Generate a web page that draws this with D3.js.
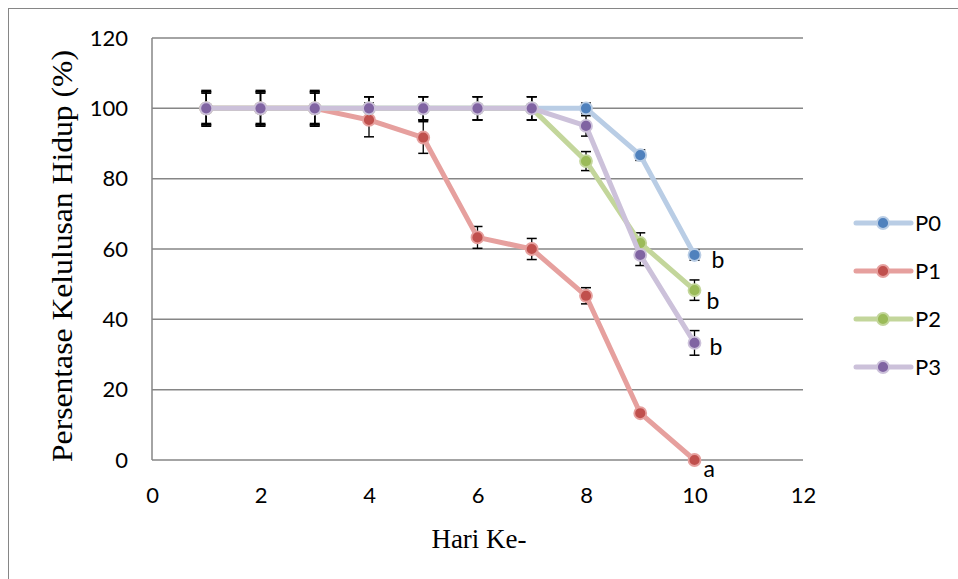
<!DOCTYPE html>
<html>
<head>
<meta charset="utf-8">
<script src="https://cdn.jsdelivr.net/npm/d3@7"></script>
<style>
	body { margin: 0; background: #fff; }
	svg { display: block; }
</style>
</head>
<body>
<div id="chart"></div>
<script>
// data
var days = [1, 2, 3, 4, 5, 6, 7, 8, 9, 10];
var seriesNames = ["P0", "P1", "P2", "P3"];
var p0 = [100, 100, 100, 100, 100, 100, 100, 100, 86.7, 58.3];
var p1 = [100, 100, 100, 96.7, 91.7, 63.3, 60, 46.7, 13.3, 0];
var p2 = [100, 100, 100, 100, 100, 100, 100, 85, 61.7, 48.3];
var p3 = [100, 100, 100, 100, 100, 100, 100, 95, 58.3, 33.3];
var p0Err = [4.3, 4.3, 4.3, 3.3, 3.3, 3.3, 3.3, 1.5, 1.5, 1.5];
var p1Err = [5.1, 5.1, 5.1, 4.8, 4.5, 3.1, 3.0, 2.3, 0, 0];
var p2Err = [4.7, 4.7, 4.7, 3.3, 3.3, 3.3, 3.3, 2.7, 2.9, 2.9];
var p3Err = [4.7, 4.7, 4.7, 3.3, 3.3, 3.3, 3.3, 2.9, 3.0, 3.5];
var xTicks = [0, 2, 4, 6, 8, 10, 12];
var yTicks = [0, 20, 40, 60, 80, 100, 120];
var letters = ["b", "a", "b", "b"]; // significance letters at day 10

var lineColors = ["#b9cde5", "#e6a09e", "#c3d69b", "#ccc1da"];
var markColors = ["#4f81bd", "#c0504d", "#9bbb59", "#8064a2"];
// label offsets from the last point (px)
var letterOffset = [[17, 13], [9, 17], [12, 19], [15, 12]];

var values = [p0, p1, p2, p3];
var errors = [p0Err, p1Err, p2Err, p3Err];
var series = seriesNames.map(function(name, i) {
	return {
		name: name,
		points: days.map(function(d, j) {
			return { x: d, y: values[i][j], e: errors[i][j] };
		})
	};
});

var W = 958, H = 579;
var svg = d3.select("#chart").append("svg")
	.attr("width", W)
	.attr("height", H);

// outer frame
svg.append("rect")
	.attr("x", 8.5).attr("y", 8.5)
	.attr("width", W + 20).attr("height", H + 20)
	.attr("fill", "none")
	.attr("stroke", "#868686")
	.attr("stroke-width", 1);

var x = d3.scaleLinear().domain([0, 12]).range([152, 803]);
var y = d3.scaleLinear().domain([0, 120]).range([460, 38]);

// gridlines
svg.append("g").selectAll("line")
	.data(yTicks)
	.enter().append("line")
	.attr("x1", x(0)).attr("x2", x(12))
	.attr("y1", function(d) { return y(d); })
	.attr("y2", function(d) { return y(d); })
	.attr("stroke", "#868686")
	.attr("stroke-width", 1.5);

// left axis line
svg.append("line")
	.attr("x1", x(0)).attr("x2", x(0))
	.attr("y1", y(0)).attr("y2", y(120))
	.attr("stroke", "#868686")
	.attr("stroke-width", 1.5);

// tick labels
var yAxis = d3.axisLeft(y).tickValues(yTicks).tickSize(0).tickPadding(24);
var gy = svg.append("g").attr("transform", "translate(" + x(0) + ",0)").call(yAxis);
var xAxis = d3.axisBottom(x).tickValues(xTicks).tickSize(0).tickPadding(27);
var gx = svg.append("g").attr("transform", "translate(0," + y(0) + ")").call(xAxis);
[gx, gy].forEach(function(g) {
	g.select(".domain").remove();
	g.selectAll("text")
		.attr("font-family", "Lato, 'Open Sans', sans-serif")
		.attr("font-size", 22)
		.attr("fill", "#000");
});

// axis titles
svg.append("text")
	.attr("transform", "translate(72,256) rotate(-90)")
	.attr("text-anchor", "middle")
	.attr("font-family", "'Liberation Serif', 'Times New Roman', serif")
	.attr("font-size", 29)
	.attr("textLength", 412)
	.attr("lengthAdjust", "spacingAndGlyphs")
	.text("Persentase Kelulusan Hidup (%)");

svg.append("text")
	.attr("x", 479).attr("y", 548)
	.attr("text-anchor", "middle")
	.attr("font-family", "'Liberation Serif', 'Times New Roman', serif")
	.attr("font-size", 27)
	.text("Hari Ke-");

// error bars
var eg = svg.append("g");
series.forEach(function(s) {
	s.points.filter(function(p) { return p.e > 0; }).forEach(function(p) {
		var cx = x(p.x), top = y(p.y + p.e), bot = y(p.y - p.e);
		eg.append("line").attr("x1", cx).attr("x2", cx).attr("y1", top).attr("y2", bot)
			.attr("stroke", "#000").attr("stroke-width", 1.3);
		[top, bot].forEach(function(yy) {
			eg.append("line").attr("x1", cx - 5).attr("x2", cx + 5).attr("y1", yy).attr("y2", yy)
				.attr("stroke", "#000").attr("stroke-width", 1.5);
		});
	});
});

// lines + markers
var line = d3.line()
	.x(function(d) { return x(d.x); })
	.y(function(d) { return y(d.y); });

series.forEach(function(s, i) {
	var g = svg.append("g");
	g.append("path")
		.attr("d", line(s.points))
		.attr("fill", "none")
		.attr("stroke", lineColors[i])
		.attr("stroke-width", 5)
		.attr("stroke-linejoin", "round");
	g.selectAll("circle")
		.data(s.points)
		.enter().append("circle")
		.attr("cx", function(d) { return x(d.x); })
		.attr("cy", function(d) { return y(d.y); })
		.attr("r", 6)
		.attr("fill", markColors[i])
		.attr("stroke", lineColors[i])
		.attr("stroke-width", 1.8);
});

// significance letters
series.forEach(function(s, i) {
	var last = s.points[s.points.length - 1];
	svg.append("text")
		.attr("x", x(last.x) + letterOffset[i][0])
		.attr("y", y(last.y) + letterOffset[i][1])
		.attr("font-family", "Lato, 'Open Sans', sans-serif")
		.attr("font-size", 23)
		.text(letters[i]);
});

// legend
var legend = svg.append("g");
seriesNames.forEach(function(name, i) {
	var ly = 223 + i * 48;
	legend.append("line")
		.attr("x1", 856).attr("x2", 911)
		.attr("y1", ly).attr("y2", ly)
		.attr("stroke", lineColors[i])
		.attr("stroke-width", 5)
		.attr("stroke-linecap", "round");
	legend.append("circle")
		.attr("cx", 883).attr("cy", ly).attr("r", 6)
		.attr("fill", markColors[i])
		.attr("stroke", lineColors[i])
		.attr("stroke-width", 1.8);
	legend.append("text")
		.attr("x", 915).attr("y", ly)
		.attr("dy", "0.36em")
		.attr("font-family", "Lato, 'Open Sans', sans-serif")
		.attr("font-size", 22)
		.text(name);
});
</script>
</body>
</html>
